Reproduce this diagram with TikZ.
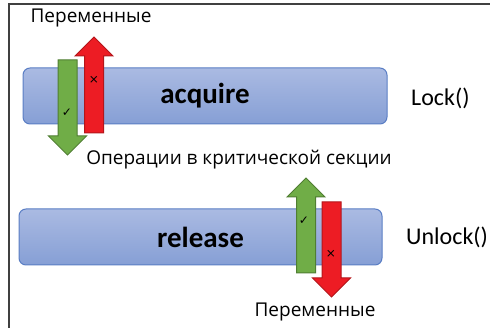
\documentclass[tikz,border=0pt]{standalone}
\usepackage{fontspec}
\setmainfont{Carlito}
\newfontfamily\cyrfont{Open Sans}
\newfontfamily\symfont{DejaVu Sans}
\usetikzlibrary{positioning}
\definecolor{boxtop}{HTML}{AABAE2}
\definecolor{boxbot}{HTML}{869FD5}
\definecolor{boxline}{HTML}{5A7EC4}
\definecolor{okfill}{HTML}{70AD47}
\definecolor{okline}{HTML}{507E32}
\definecolor{nofill}{HTML}{ED1C24}
\definecolor{noline}{HTML}{B3161B}
\definecolor{frameline}{HTML}{404040}
\tikzset{
	block/.style={draw=boxline, line width=1pt, rounded corners=7pt,
		top color=boxtop, bottom color=boxbot, minimum height=56pt,
		inner sep=0pt, font=\fontsize{29}{31}\selectfont\bfseries},
	call/.style={inner sep=0pt, font=\fontsize{24}{26}\selectfont},
	txt/.style={inner sep=0pt, font=\cyrfont\fontsize{19}{21}\selectfont},
	okarrow/.style={draw=okline, fill=okfill, line width=1pt},
	noarrow/.style={draw=noline, fill=nofill, line width=1pt},
	tick/.style={inner sep=0pt, font=\symfont\fontsize{12}{12}\selectfont},
	frame/.style={draw=frameline, line width=1.5pt},
}
% block arrow: style, x, tail y, tip y
\newcommand{\blockarrow}[4]{%
	\pgfmathsetmacro{\hb}{#4-19*sign(#4-#3)}%
	\draw[#1] (#2-9.5,#3) -- (#2-9.5,\hb) -- (#2-19,\hb) -- (#2,#4)
		-- (#2+19,\hb) -- (#2+9.5,\hb) -- (#2+9.5,#3) -- cycle;}

\begin{document}
\begin{tikzpicture}[x=1pt,y=-1pt]
	\useasboundingbox (0,0) rectangle (490,328);
	\draw[frame] (9,328) -- (9,4) -- (490,4);
	%
	\node[block, minimum width=364pt] (acq) at (205,96) {acquire};
	\node[block, minimum width=363pt] (rel) at (200.5,237) {release};
	\node[call, anchor=west] (lock) at (411,98) {Lock()};
	\node[call, anchor=west] (unlock) at (406,237) {Unlock()};
	%
	\node[txt] (vartop) at (91,18) {Переменные};
	\node[txt] (crit) at (239,160) {Операции в критической секции};
	\node[txt] (varbot) at (315,312) {Переменные};
	%
	\blockarrow{okarrow}{67.5}{60}{155}
	\blockarrow{noarrow}{94}{133}{37}
	\blockarrow{okarrow}{306}{273}{178}
	\blockarrow{noarrow}{331.5}{202}{297}
	%
	\node[tick] (oktop) at (67,113) {✓};
	\node[tick] (notop) at (94,80) {×};
	\node[tick] (okbot) at (304,221) {✓};
	\node[tick] (nobot) at (331,254) {×};
\end{tikzpicture}
\end{document}
